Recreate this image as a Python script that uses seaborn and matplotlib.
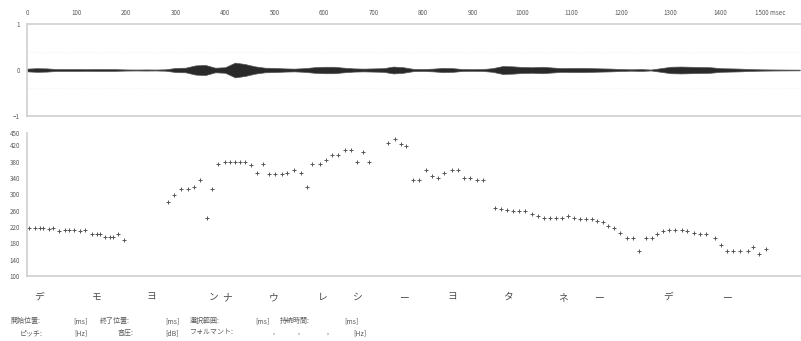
"""
Speech analysis view: waveform envelope on top, pitch track below.
"""

import numpy as np
import matplotlib
matplotlib.use("Agg")
import matplotlib.pyplot as plt
import matplotlib.transforms as mtransforms
import seaborn as sns

# waveform amplitude envelope, read every 20 ms
env_ms = list(range(0, 1580, 20))
env_amp = [0.03, 0.04, 0.035, 0.02, 0.02, 0.02, 0.018, 0.02, 0.02, 0.018,
           0.012, 0.01, 0.012, 0.01, 0.015, 0.045, 0.05, 0.10, 0.11, 0.05,
           0.06, 0.16, 0.13, 0.08, 0.05, 0.045, 0.035, 0.03, 0.04, 0.06,
           0.07, 0.07, 0.05, 0.035, 0.03, 0.035, 0.04, 0.075, 0.06, 0.025,
           0.02, 0.03, 0.045, 0.04, 0.02, 0.018, 0.02, 0.04, 0.085, 0.08,
           0.065, 0.06, 0.07, 0.055, 0.04, 0.045, 0.045, 0.04, 0.035, 0.03,
           0.02, 0.015, 0.02, 0.01, 0.04, 0.07, 0.075, 0.07, 0.065, 0.06,
           0.04, 0.035, 0.03, 0.02, 0.015, 0.012, 0.01, 0.008, 0.006]

# pitch track (ms, Hz)
pitch_ms = [4, 16, 26, 32, 44, 53, 65, 77, 85, 95, 107, 117, 131, 141, 147,
            158, 168, 174, 184, 196,
            285, 297, 311, 325, 337, 349, 364, 374, 386, 400, 410, 420, 430,
            440, 453, 465, 477, 489, 501, 515, 525, 539, 554, 566, 576, 592,
            604, 616, 628, 642, 655, 667, 679, 691,
            729, 743, 756, 766,
            780, 792, 806, 818, 830, 842, 859, 871, 883, 895, 909, 921,
            945, 958, 970, 982, 994, 1006, 1020, 1032, 1044, 1057, 1069, 1081,
            1093, 1105, 1117, 1129, 1141, 1152, 1164, 1174, 1186, 1198, 1212,
            1224, 1236, 1251, 1263, 1273, 1285, 1297, 1309, 1323, 1333, 1347,
            1360, 1372, 1390, 1402, 1414, 1426, 1440, 1455, 1467, 1479, 1493]
pitch_hz = [218, 218, 218, 218, 216, 218, 209, 212, 212, 212, 209, 212, 203,
            203, 203, 196, 196, 195, 203, 188,
            282, 299, 314, 314, 319, 335, 241, 313, 374, 378, 378, 378, 378,
            378, 372, 353, 374, 350, 350, 350, 353, 359, 353, 319, 375, 375,
            385, 397, 397, 409, 409, 380, 404, 380,
            426, 436, 424, 419,
            336, 336, 359, 345, 340, 353, 359, 359, 340, 340, 334, 334,
            266, 264, 261, 258, 258, 258, 251, 246, 243, 242, 243, 243,
            246, 243, 239, 239, 239, 235, 231, 223, 217, 206, 193,
            193, 160, 193, 193, 202, 209, 212, 212, 212, 210, 206,
            202, 202, 193, 176, 160, 160, 160, 160, 171, 155, 166]

top_ticks = [0, 100, 200, 300, 400, 500, 600, 700, 800, 900, 1000, 1100,
             1200, 1300, 1400, 1500]
top_labels = [str(t) for t in top_ticks[:-1]] + ["1500 msec"]
amp_ticks = [1, 0, -1]
hz_ticks = [100, 140, 180, 220, 260, 300, 340, 380, 420, 450]

kana = ["デ", "モ", "ヨ", "ン", "ナ", "ウ", "レ", "シ", "ー", "ヨ", "タ", "ネ",
        "ー", "デ", "ー"]
kana_ms = [24, 141, 252, 376, 404, 497, 598, 669, 764, 858, 971, 1082,
           1157, 1294, 1416]

info_row1 = [("開始位置:", 10), ("[ms]", 73), ("終了位置:", 100), ("[ms]", 165),
             ("選択範囲:", 190), ("[ms]", 255), ("持続時間:", 280), ("[ms]", 344)]
info_row2 = [("ピッチ:", 20), ("[Hz]", 74), ("音圧:", 118), ("[dB]", 165),
             ("フォルマント:", 190), (",", 273), (",", 298), (",", 327),
             ("[Hz]", 353)]


def main():
    sns.set_style("white")
    plt.rcParams["font.family"] = ["Noto Sans CJK JP", "DejaVu Sans"]

    W, H = 801, 341
    fig = plt.figure(figsize=(W / 100, H / 100), dpi=100)
    xmax = 1563
    grey = "#cfcfcf"
    tcol = "#5a5a5a"

    # waveform panel
    ax1 = fig.add_axes([27 / W, 1 - 116 / H, 1 - 27 / W, 92 / H])
    amp = np.array(env_amp)
    ax1.axhline(0, color="#b5b5b5", lw=0.9, zorder=1)
    for y in (0.4, -0.4):
        ax1.axhline(y, color="#f3f3f3", lw=0.8, ls=":", zorder=0)
    ax1.fill_between(env_ms, -amp, amp, color="#2a2a2a", lw=0.5,
                     edgecolor="#555555", zorder=2)
    ax1.set_xlim(0, xmax)
    ax1.set_ylim(-1, 1)
    ax1.xaxis.tick_top()
    ax1.set_xticks(top_ticks)
    ax1.set_xticklabels(top_labels)
    ax1.set_yticks(amp_ticks)
    ax1.tick_params(length=0, labelsize=4.5, colors=tcol, pad=5)
    for name, sp in ax1.spines.items():
        sp.set_color(grey)
        sp.set_linewidth(1.2)
    ax1.spines["right"].set_visible(False)

    # pitch panel
    ax2 = fig.add_axes([27 / W, 1 - 276 / H, 1 - 27 / W, 143 / H])
    sns.scatterplot(x=pitch_ms, y=pitch_hz, ax=ax2, marker="+", s=8,
                    color="#555555", linewidth=0.7)
    ax2.set_xlim(0, xmax)
    ax2.set_ylim(100, 450)
    ax2.set_xticks([])
    ax2.set_yticks(hz_ticks)
    ax2.tick_params(length=0, labelsize=4.5, colors=tcol, pad=5)
    sns.despine(ax=ax2, top=True, right=True)
    for side in ("left", "bottom"):
        ax2.spines[side].set_color(grey)
        ax2.spines[side].set_linewidth(1.2)

    # kana labels under the pitch panel
    trans = mtransforms.blended_transform_factory(ax2.transData, fig.transFigure)
    for ch, ms in zip(kana, kana_ms):
        ax2.text(ms, 1 - 297 / H, ch, transform=trans, ha="center",
                 va="center", fontsize=7, color="#4a4a4a")

    # info rows
    for row, ypix in ((info_row1, 321), (info_row2, 333)):
        for txt, xpix in row:
            fig.text(xpix / W, 1 - ypix / H, txt, ha="left", va="center",
                     fontsize=5, color=tcol)

    fig.savefig("out.png", dpi=100)


if __name__ == "__main__":
    main()
